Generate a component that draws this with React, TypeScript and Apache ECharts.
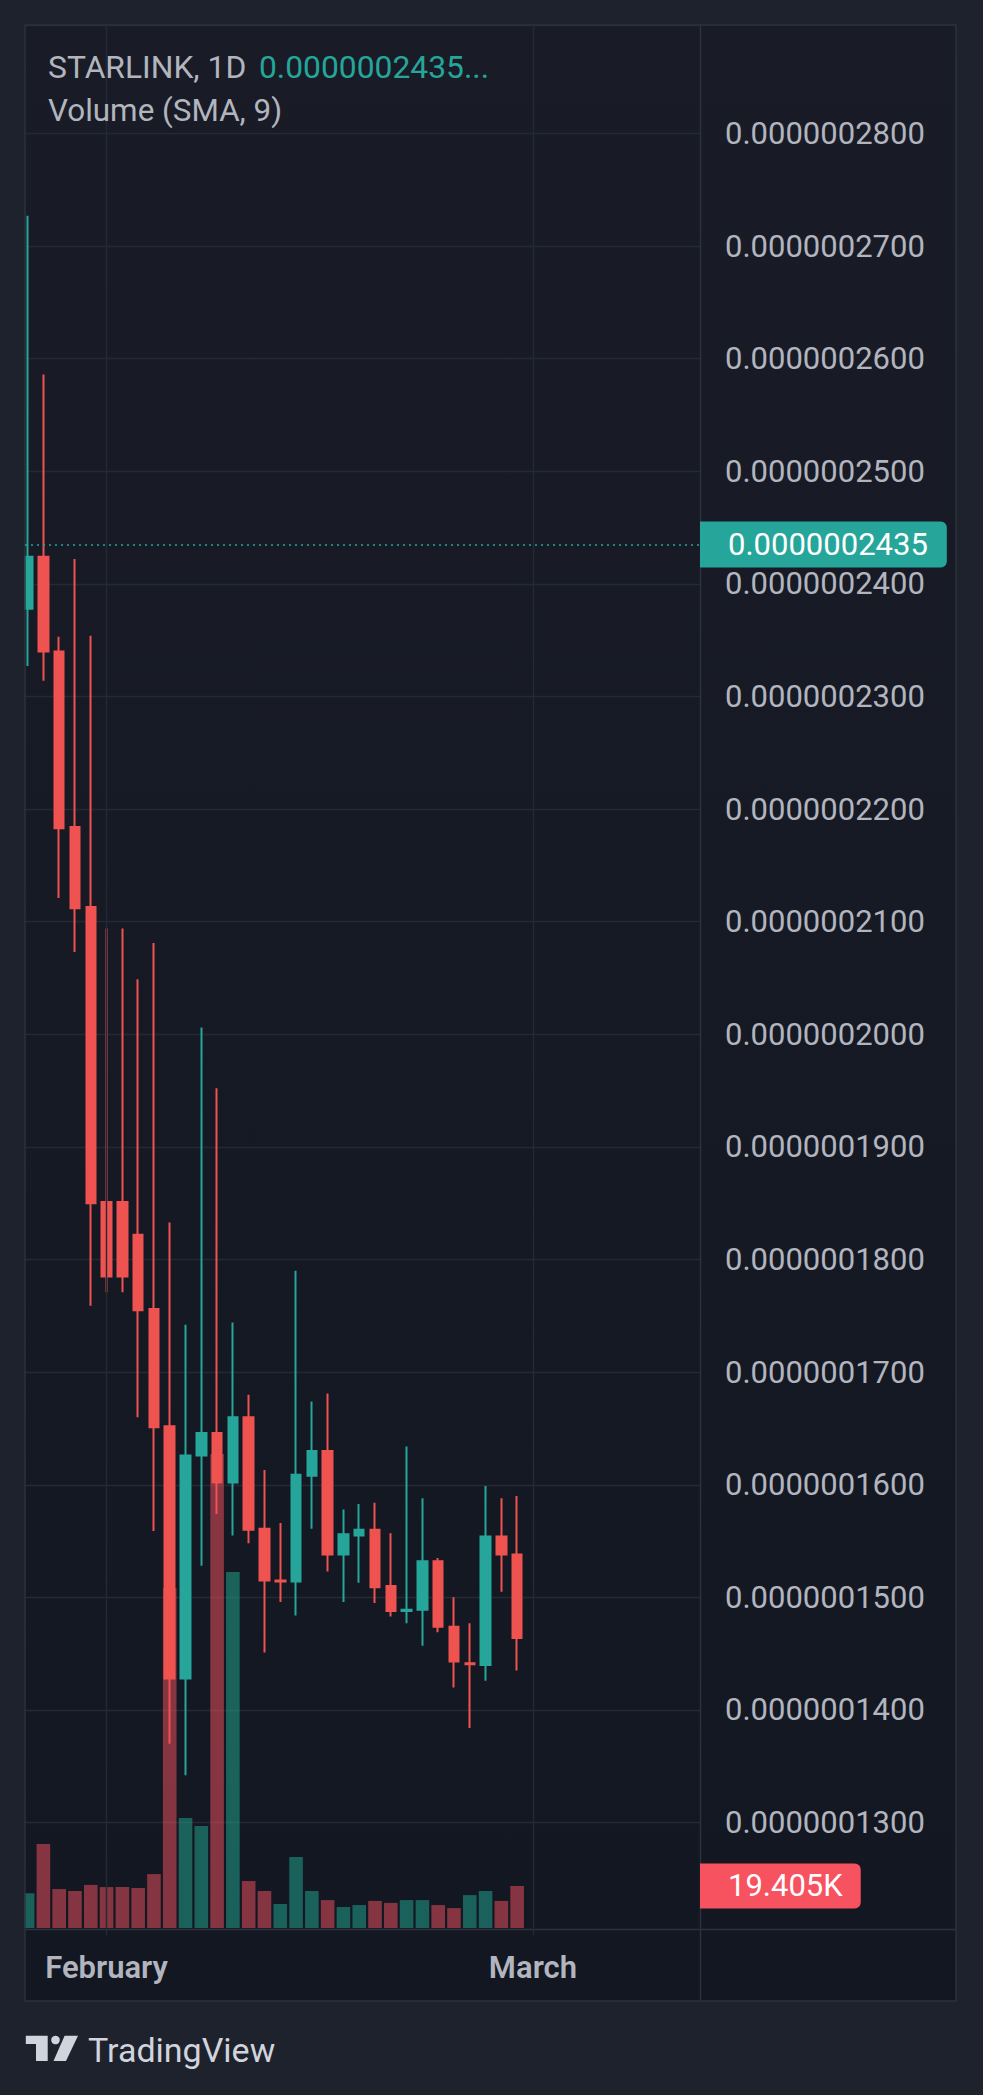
import React, { useEffect, useRef } from 'react';
import * as echarts from 'echarts';

// Prices are given in units of 1e-10 (0.0000000001)
const PRICE_UNIT = 1e-10;

const opens = [2378, 2424, 2340, 2184, 2113, 1851, 1851, 1822, 1756, 1652, 1428, 1626, 1646, 1602, 1660, 1561, 1515, 1514, 1608, 1630, 1538, 1555, 1560, 1510, 1488, 1489, 1532, 1474, 1441.5, 1440, 1554, 1538];
const closes = [2424, 2340, 2183, 2112, 1850, 1785, 1785, 1755, 1651, 1428, 1626, 1646, 1602, 1660, 1560, 1515, 1514, 1609, 1630, 1538, 1556, 1560, 1509, 1488, 1489, 1532, 1474, 1443, 1440.5, 1554, 1538, 1464];
const lows = [2327, 2314, 2121, 2073, 1759, 1771, 1771, 1660, 1559, 1370, 1342, 1528, 1574, 1555, 1548, 1451, 1496, 1484, 1561, 1523, 1496, 1513, 1495, 1483, 1477, 1457, 1469, 1420, 1384, 1426, 1505, 1435];
const highs = [2727, 2586, 2353, 2422, 2354, 2094, 2094, 2049, 2081, 1833, 1742, 2006, 1952, 1744, 1680, 1613, 1566, 1790, 1674, 1681, 1578, 1583, 1584, 1557, 1634, 1588, 1535, 1500, 1477, 1599, 1588, 1590];

const volumes = [16000, 38800, 18000, 17100, 19900, 18900, 18900, 18500, 24900, 157000, 50800, 47100, 219000, 164500, 21700, 17100, 11100, 32800, 17100, 12900, 9700, 10600, 12500, 11600, 12900, 12900, 10600, 9200, 15200, 17100, 12500, 19405];
const volumeUp = [1, 0, 0, 0, 0, 0, 0, 0, 0, 0, 1, 1, 0, 1, 0, 0, 1, 1, 1, 0, 1, 1, 0, 0, 1, 1, 0, 0, 1, 1, 0, 0];

const monthTickPositions = [5, 32];
const monthTickLabels = ['February', 'March'];

const priceTickStep = 100;
const lastPrice = 2435;
const lastVolume = volumes[volumes.length - 1];

const symbolTitle = 'STARLINK, 1D';
const headerValue = '0.0000002435...';
const volumeTitle = 'Volume (SMA, 9)';

const UP = '#26a69a';
const DOWN = '#ef5350';
const VOL_UP = 'rgba(34,171,148,0.5)';
const VOL_DOWN = 'rgba(247,82,95,0.5)';
const GRID = '#252934';
const BORDER = '#2e323d';
const LABEL = '#b2b5be';
const OUTER = '#1e222d';
const FONT = 'Roboto';

function buildOption() {
  const xMin = -0.165;
  const xMax = 42.58;
  const fmtPrice = (v: number) => (v * PRICE_UNIT).toFixed(10);
  const fmtVol = (v: number) => (v / 1000).toFixed(3) + 'K';

  return {
    animation: false,
    backgroundColor: OUTER,
    textStyle: { fontFamily: FONT },
    grid: [
      { left: 25, right: 283, top: 25, bottom: 159.8 },
      { left: 25, right: 283, top: 1428, bottom: 167 },
    ],
    xAxis: [
      { type: 'value', gridIndex: 0, min: xMin, max: xMax, show: false },
      {
        type: 'value',
        gridIndex: 1,
        min: xMin,
        max: xMax,
        z: 6,
        axisLine: { show: false },
        axisTick: { show: false },
        splitLine: { show: false },
        axisLabel: {
          customValues: monthTickPositions,
          margin: 24,
          color: LABEL,
          fontSize: 31,
          fontWeight: 600,
          fontFamily: FONT,
          formatter: (v: number) => {
            const k = monthTickPositions.indexOf(Math.round(v));
            return k >= 0 ? monthTickLabels[k] : '';
          },
        },
      },
    ],
    yAxis: [
      {
        type: 'value',
        gridIndex: 0,
        position: 'right',
        min: 1200,
        max: 2896.3,
        interval: priceTickStep,
        axisLine: { show: false },
        axisTick: { show: false },
        splitLine: { show: true, lineStyle: { color: GRID, width: 1.4 } },
        axisLabel: {
          margin: 25,
          color: LABEL,
          fontSize: 31,
          fontFamily: FONT,
          showMinLabel: false,
          showMaxLabel: false,
          formatter: fmtPrice,
        },
      },
      { type: 'value', gridIndex: 1, min: 0, max: 231000, show: false },
    ],
    series: [
      {
        type: 'line',
        xAxisIndex: 0,
        yAxisIndex: 0,
        data: [],
        z: 1,
        silent: true,
        markLine: {
          silent: true,
          symbol: 'none',
          label: { show: false },
          lineStyle: { color: GRID, width: 1.4, type: 'solid' },
          data: monthTickPositions.map((v) => ({ xAxis: v })),
        },
      },
      {
        type: 'bar',
        xAxisIndex: 1,
        yAxisIndex: 1,
        barWidth: 13.6,
        z: 2,
        clip: true,
        silent: true,
        data: volumes.map((v, i) => ({
          value: [i, v],
          itemStyle: { color: volumeUp[i] ? VOL_UP : VOL_DOWN },
        })),
        markLine: {
          silent: true,
          symbol: 'none',
          lineStyle: { color: 'rgba(0,0,0,0)', width: 0 },
          label: {
            show: true,
            position: 'end',
            distance: 0,
            opacity: 1,
            formatter: () => fmtVol(lastVolume),
            backgroundColor: '#f7525f',
            color: '#ffffff',
            fontSize: 31,
            lineHeight: 30,
            fontFamily: FONT,
            padding: [8, 18, 7, 28],
            borderRadius: [0, 6, 6, 0],
          },
          data: [{ yAxis: lastVolume }],
        },
      },
      {
        type: 'candlestick',
        xAxisIndex: 0,
        yAxisIndex: 0,
        z: 3,
        barWidth: 10,
        clip: true,
        silent: true,
        itemStyle: {
          color: UP,
          color0: DOWN,
          borderColor: UP,
          borderColor0: DOWN,
          borderWidth: 2,
        },
        data: opens.map((o, i) => [i, o, closes[i], lows[i], highs[i]]),
        markLine: {
          silent: true,
          symbol: 'none',
          lineStyle: { color: UP, type: [2, 4], width: 1.6 },
          label: {
            show: true,
            position: 'end',
            distance: 0,
            formatter: () => fmtPrice(lastPrice),
            backgroundColor: UP,
            color: '#ffffff',
            fontSize: 31,
            lineHeight: 30,
            fontFamily: FONT,
            padding: [8, 19, 8, 28],
            borderRadius: [0, 6, 6, 0],
          },
          data: [{ yAxis: lastPrice }],
        },
      },
    ],
    graphic: [
      {
        type: 'rect',
        z: -1,
        silent: true,
        shape: { x: 25, y: 25, width: 931, height: 1976 },
        style: {
          fill: {
            type: 'linear', x: 0, y: 0, x2: 0, y2: 1,
            colorStops: [
              { offset: 0, color: '#191c27' },
              { offset: 1, color: '#131722' },
            ],
          },
        },
      },
      {
        type: 'rect',
        z: 4,
        silent: true,
        shape: { x: 25, y: 1929, width: 931, height: 72 },
        style: { fill: '#131722' },
      },
      {
        type: 'rect',
        z: 4,
        silent: true,
        shape: { x: 0, y: 20, width: 24.4, height: 1990 },
        style: { fill: OUTER },
      },
      {
        type: 'rect',
        z: 5,
        silent: true,
        shape: { x: 25, y: 25, width: 931, height: 1976 },
        style: { fill: 'none', stroke: BORDER, lineWidth: 1.4 },
      },
      {
        type: 'line',
        z: 5,
        silent: true,
        shape: { x1: 700.5, y1: 25, x2: 700.5, y2: 2001 },
        style: { stroke: BORDER, lineWidth: 1.4 },
      },
      {
        type: 'line',
        z: 5,
        silent: true,
        shape: { x1: 25, y1: 1929.5, x2: 956, y2: 1929.5 },
        style: { stroke: BORDER, lineWidth: 1.4 },
      },
      {
        type: 'text',
        z: 6,
        x: 48,
        y: 66.5,
        style: { text: symbolTitle, fill: LABEL, fontSize: 31.8, fontFamily: FONT, verticalAlign: 'middle', align: 'left' },
      },
      {
        type: 'text',
        z: 6,
        x: 259,
        y: 66.5,
        style: { text: headerValue, fill: UP, fontSize: 31.8, fontFamily: FONT, verticalAlign: 'middle', align: 'left' },
      },
      {
        type: 'text',
        z: 6,
        x: 48,
        y: 110.5,
        style: { text: volumeTitle, fill: LABEL, fontSize: 31.4, fontFamily: FONT, verticalAlign: 'middle', align: 'left' },
      },
      {
        type: 'polygon',
        z: 6,
        silent: true,
        shape: { points: [[25.8, 2035.7], [47.7, 2035.7], [47.7, 2061], [36, 2061], [36, 2044], [25.8, 2044]] },
        style: { fill: '#d1d4dc' },
      },
      {
        type: 'circle',
        z: 6,
        silent: true,
        shape: { cx: 55.5, cy: 2040, r: 4.3 },
        style: { fill: '#d1d4dc' },
      },
      {
        type: 'polygon',
        z: 6,
        silent: true,
        shape: { points: [[64.6, 2035.7], [78, 2035.7], [66, 2061], [53.5, 2061]] },
        style: { fill: '#d1d4dc' },
      },
      {
        type: 'text',
        z: 6,
        x: 88,
        y: 2049.5,
        style: { text: 'TradingView', fill: '#d1d4dc', fontSize: 34, fontFamily: FONT, verticalAlign: 'middle', align: 'left' },
      },
    ],
  };
}

export default function App() {
  const ref = useRef<HTMLDivElement>(null);
  useEffect(() => {
    document.body.style.margin = '0';
    document.body.style.overflow = 'hidden';
    const chart = echarts.init(ref.current as HTMLDivElement, undefined, { renderer: 'svg', width: 983, height: 2095 });
    chart.setOption(buildOption() as any);
    return () => chart.dispose();
  }, []);
  return <div ref={ref} style={{ width: 983, height: 2095 }} />;
}
